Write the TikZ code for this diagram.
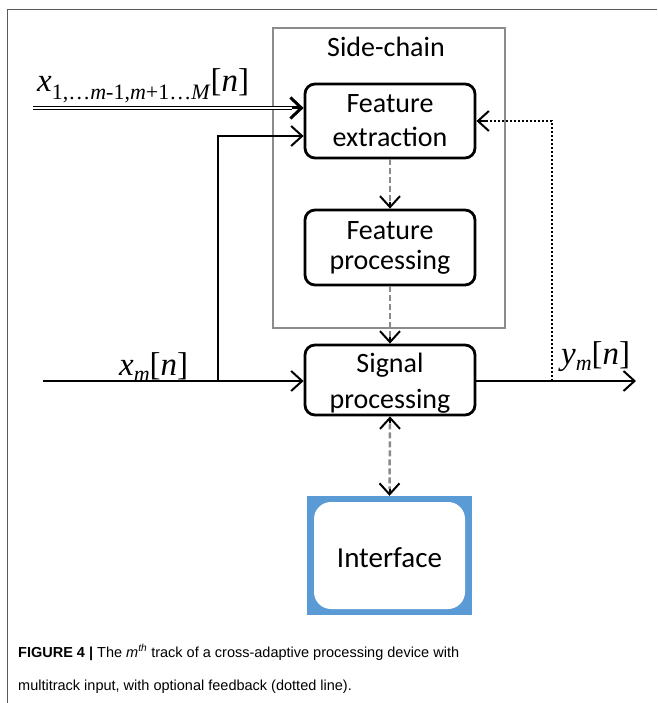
\documentclass[tikz,border=0pt]{standalone}
\usepackage{fontspec}
\setmainfont{Carlito}
\newfontfamily\tms{Liberation Serif}
\newfontfamily\capfont{Liberation Sans}
\usetikzlibrary{arrows.meta,calc}
\definecolor{ifblue}{HTML}{5B9BD5}
\definecolor{scgray}{HTML}{8C8C8C}
\definecolor{dgray}{HTML}{8A8A8A}
\begin{document}
\begin{tikzpicture}[x=1pt,y=-1pt,
  blockbox/.style={draw=black,line width=2.8pt,rounded corners=10pt,minimum width=170pt,inner sep=0pt},
  btext/.style={inner sep=0pt,anchor=base,font=\fontsize{28}{28}\selectfont},
  chev/.style={-{Straight Barb[length=11pt,width=20pt,line width=2pt]}},
  sigline/.style={line width=2pt,chev},
  dashedarrow/.style={draw=dgray,line width=2.5pt,dash pattern=on 6pt off 3pt},
  lbl/.style={inner sep=0pt,anchor=base west},
  big/.style={font=\tms\fontsize{33}{33}\selectfont}]
\useasboundingbox (0,0) rectangle (657,703);
% frame
\draw[draw=black!65,line width=1pt] (7,703) -- (7,10) -- (657,10);
% side chain box
\node[draw=scgray,line width=1.5pt,minimum width=232pt,minimum height=300pt,inner sep=0pt] (sc) at (389,178) {};
\node[btext] (sct) at (386,57) {Side-chain};
% blocks
\node[blockbox,minimum height=74pt] (fe) at (390,121) {};
\node[btext] (fe1) at (390,113) {Feature};
\node[btext] (fe2) at (390,147) {extraction};
\node[blockbox,minimum height=75pt] (fp) at (390,247.5) {};
\node[btext] (fp1) at (390,239) {Feature};
\node[btext] (fp2) at (390,269) {processing};
\node[blockbox,minimum height=70pt] (sp) at (390,380) {};
\node[btext] (sp1) at (390,372) {Signal};
\node[btext] (sp2) at (390,408) {processing};
% interface
\node[fill=ifblue,minimum width=165pt,minimum height=119pt,inner sep=0pt] (ifo) at (389.5,555.5) {};
\node[fill=white,rounded corners=17pt,minimum width=151pt,minimum height=107pt,inner sep=0pt] (if) at (ifo.center) {};
\node[btext,font=\fontsize{29}{29}\selectfont] (ift) at (389.5,567) {Interface};
% inputs
\coordinate (in1) at (33,108);
\coordinate (in1e) at ($(fe.west|-in1)+(-12,0)$);
\draw[line width=0.9pt,double,double distance=2pt] (in1) -- (in1e);
\draw[line width=3pt,-{Straight Barb[length=11pt,width=21pt,line width=3pt]}] (in1e) -- (fe.west|-in1);
\coordinate (in0) at (43,381);
\coordinate (br) at (218,381);
\coordinate (brt) at (218,136);
\draw[sigline] (in0) -- (sp.west|-in0);
\draw[sigline] (br) -- (brt) -- (fe.west|-brt);
% output
\coordinate (out) at (636,381);
\draw[sigline] (sp.east|-out) -- (out);
% feedback
\coordinate (fb) at (552,381);
\coordinate (fbt) at (552,121);
\draw[line width=2pt,dotted] (fb) -- (fbt) -- ($(fe.east)+(10,0)$);
\draw[sigline] ($(fe.east)+(10,0)$) -- (fe.east);
% dashed links
\draw[dashedarrow] (fe.south) -- ($(fp.north)+(0,-7)$);
\draw[sigline] ($(fp.north)+(0,-7)$) -- (fp.north);
\draw[dashedarrow] (fp.south) -- ($(sp.north)+(0,-7)$);
\draw[sigline] ($(sp.north)+(0,-7)$) -- (sp.north);
\draw[dashedarrow] ($(sp.south)+(0,7)$) -- ($(ifo.north)+(0,-7)$);
\draw[sigline] ($(sp.south)+(0,7)$) -- (sp.south);
\draw[sigline] ($(ifo.north)+(0,-7)$) -- (ifo.north);
% labels
\node[lbl,big] (l1) at (37,92) {\itshape x\upshape\raisebox{-8pt}{\fontsize{22}{22}\selectfont 1,…\textit{m}-1,\textit{m}+1…\textit{M}}[\textit{n}]};
\node[lbl,big] (l2) at (119,375) {\itshape x\raisebox{-6pt}{\fontsize{22}{22}\selectfont m}\upshape[\textit{n}]};
\node[lbl,big] (l3) at (561,364) {\itshape y\raisebox{-6pt}{\fontsize{22}{22}\selectfont m}\upshape[\textit{n}]};
% caption
\node[lbl,font=\capfont\fontsize{14.5}{14.5}\selectfont] (c1) at (18,657) {\textbf{FIGURE 4 |} The \textit{m}\textsuperscript{\textit{th}} track of a cross-adaptive processing device with};
\node[lbl,font=\capfont\fontsize{14.5}{14.5}\selectfont] (c2) at (18,690) {multitrack input, with optional feedback (dotted line).};
\end{tikzpicture}
\end{document}
